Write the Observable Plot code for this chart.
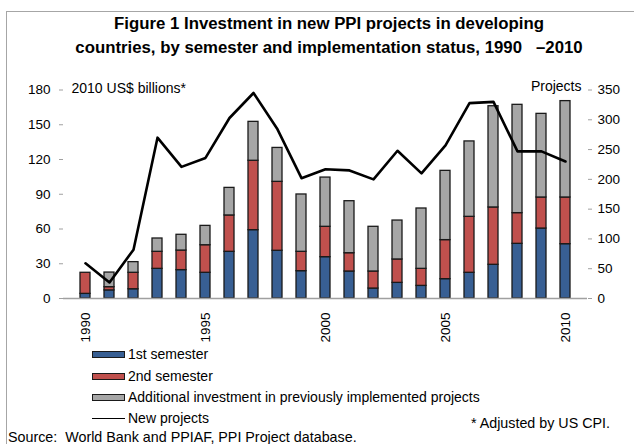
<!DOCTYPE html>
<html><head><meta charset="utf-8">
<script src="https://cdn.jsdelivr.net/npm/d3@7"></script>
<script src="https://cdn.jsdelivr.net/npm/@observablehq/plot@0.6"></script>
<style>
body{margin:0;background:#fff;font-family:"Liberation Sans",Arial,sans-serif;color:#000;}
#wrap{position:relative;width:634px;height:444px;overflow:hidden;background:#fff;}
#frame{position:absolute;left:6px;top:11px;width:700px;height:500px;border-left:1.5px solid #a6a6a6;border-top:1.5px solid #a6a6a6;box-sizing:border-box;}
#chart{position:absolute;left:0;top:0;}
#title{position:absolute;left:0;width:658px;top:12px;text-align:center;font-weight:bold;font-size:16.8px;line-height:24px;white-space:pre;}
.leg{position:absolute;left:92px;height:16px;font-size:14px;line-height:16px;white-space:nowrap;}
.sw{position:absolute;left:0;top:5px;width:31px;height:5px;border:1px solid #1a1a1a;}
.ln{position:absolute;left:0;top:7.5px;width:33px;height:1.3px;background:#000;}
.lt{position:absolute;left:36px;top:0;}
.note{position:absolute;font-size:14.3px;line-height:16px;white-space:pre;}
</style></head>
<body>
<div id="wrap">
  <div id="frame"></div>
  <div id="chart"></div>
  <div id="title">Figure 1 Investment in new PPI projects in developing
countries, by semester and implementation status, 1990   –2010</div>
  <div id="legend"></div>
  <div class="note" style="right:24px;top:415px;">* Adjusted by US CPI.</div>
  <div class="note" style="left:8px;top:429px;">Source:  World Bank and PPIAF, PPI Project database.</div>
</div>
<script>
const years = d3.range(1990, 2011);
const firstSemester = [4, 7, 8, 25.6, 24.5, 22.2, 40.3, 59, 41.2, 23.6, 35.7, 23.3, 8.6, 13.5, 10.9, 16.7, 22.2, 29.1, 47.2, 60.4, 46.9];
const secondSemester = [18.2, 2.8, 14.2, 14.7, 16.9, 23.8, 31.4, 59.9, 59.5, 16.7, 26.2, 15.8, 14.7, 20.2, 14.7, 33.7, 48.3, 49.5, 26.5, 26.8, 40.3];
const additional = [0, 12.6, 9.2, 11.5, 13.6, 16.7, 23.8, 33.6, 29.3, 49.5, 42.5, 44.9, 38.6, 33.6, 52.1, 59.8, 65.1, 87.4, 93.5, 72.2, 83.2];
const newProjects = [59, 27, 82, 270, 221, 236, 303, 345, 284, 202, 217, 215, 200, 248, 210, 257, 328, 330, 247, 247, 230];
const seriesNames = ["1st semester", "2nd semester", "Additional investment in previously implemented projects"];
const seriesColors = ["#385f93", "#c0504d", "#a6a6a6"];
const lineName = "New projects";
const leftTicks = [0, 30, 60, 90, 120, 150, 180];
const rightTicks = [0, 50, 100, 150, 200, 250, 300, 350];
const xTickYears = [1990, 1995, 2000, 2005, 2010];
const leftMax = 180, rightMax = 350;

const seriesValues = [firstSemester, secondSemester, additional];
const bars = [];
years.forEach((y, i) => seriesValues.forEach((vals, s) => bars.push({year: y, series: seriesNames[s], value: vals[i]})));
const lineData = years.map((y, i) => ({year: y, projects: newProjects[i]}));
const toLeft = v => v * leftMax / rightMax;

const chart = Plot.plot({
  width: 634, height: 360,
  marginLeft: 63, marginRight: 47, marginTop: 89.5, marginBottom: 62,
  style: {fontFamily: "'Liberation Sans', Arial, sans-serif", fontSize: "13.5px", color: "#000", background: "transparent", overflow: "visible"},
  x: {type: "band", domain: years, paddingInner: 0.6, paddingOuter: 0.3, label: null},
  y: {domain: [0, leftMax], label: null},
  color: {domain: seriesNames, range: seriesColors},
  marks: [
    Plot.barY(bars, {x: "year", y: "value", fill: "series", stroke: "#1a1a1a", strokeWidth: 1.3, order: seriesNames}),
    Plot.ruleY([0], {stroke: "#a0a0a0", strokeWidth: 1.3}),
    Plot.axisY({anchor: "left", ticks: leftTicks, tickSize: 4, tickPadding: 9, stroke: "#a0a0a0", line: true, label: null}),
    Plot.axisY(rightTicks.map(toLeft), {anchor: "right", tickFormat: v => String(Math.round(v * rightMax / leftMax)), tickSize: 4, tickPadding: 6, stroke: "#a0a0a0", line: true, label: null}),
    Plot.axisX(xTickYears, {tickFormat: d => String(d), tickRotate: -90, tickSize: 0, tickPadding: 14, label: null}),
    Plot.lineY(lineData, {x: "year", y: d => toLeft(d.projects), stroke: "#000", strokeWidth: 2.6}),
    Plot.text(["2010 US$ billions*"], {text: d => d, frameAnchor: "top-left", textAnchor: "start", lineAnchor: "middle", dx: 8, dy: -1, fontSize: 14}),
    Plot.text(["Projects"], {text: d => d, frameAnchor: "top-right", textAnchor: "end", lineAnchor: "middle", dx: -6, dy: -3, fontSize: 14})
  ]
});
document.getElementById("chart").appendChild(chart);

const legend = document.getElementById("legend");
const legTops = [346, 368, 389, 410];
seriesNames.forEach((name, i) => {
  const d = document.createElement("div");
  d.className = "leg"; d.style.top = legTops[i] + "px";
  d.innerHTML = `<span class="sw" style="background:${seriesColors[i]}"></span><span class="lt"></span>`;
  d.querySelector(".lt").textContent = name;
  legend.appendChild(d);
});
const dl = document.createElement("div");
dl.className = "leg"; dl.style.top = legTops[3] + "px";
dl.innerHTML = `<span class="ln"></span><span class="lt"></span>`;
dl.querySelector(".lt").textContent = lineName;
legend.appendChild(dl);
</script>
</body></html>
